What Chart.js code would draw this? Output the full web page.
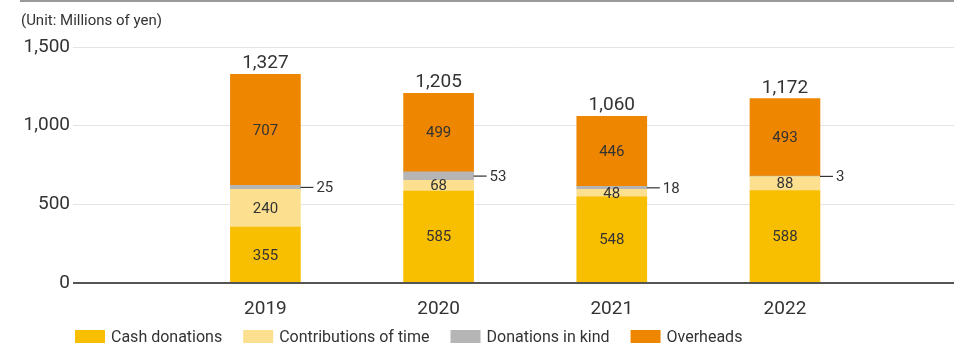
<!DOCTYPE html>
<html><head><meta charset="utf-8">
<script src="https://cdn.jsdelivr.net/npm/chart.js@4.4.0/dist/chart.umd.min.js"></script>
<style>html,body{margin:0;padding:0;background:#fff;} #wrap{position:relative;width:954px;height:345px;}</style>
</head><body><div id="wrap"><canvas id="c" width="954" height="345"></canvas></div>
<script>
const categories = [2019, 2020, 2021, 2022];
const seriesNames = ['Cash donations', 'Contributions of time', 'Donations in kind', 'Overheads'];
const cashDonations = [355, 585, 548, 588];
const contributionsOfTime = [240, 68, 48, 88];
const donationsInKind = [25, 53, 18, 3];
const overheads = [707, 499, 446, 493];
const totals = [1327, 1205, 1060, 1172];
const yTickValues = [0, 500, 1000, 1500];
const unitLabel = '(Unit: Millions of yen)';

const colors = ['#f8be00', '#fce08f', '#b5b5b5', '#ee8600'];
const FONT = 'Roboto, "Noto Sans", sans-serif';
const TEXT = '#333333';
const seriesValues = [cashDonations, contributionsOfTime, donationsInKind, overheads];

const datasets = seriesValues.map((vals, i) => ({
  label: seriesNames[i],
  data: categories.map((c, j) => ({ x: c, y: vals[j] })),
  backgroundColor: colors[i],
  borderWidth: 0,
  barThickness: 70,
  labelMode: i === 2 ? 'side' : 'inside'
}));

const decor = {
  id: 'decor',
  beforeDraw(chart) {
    const ctx = chart.ctx;
    ctx.save();
    ctx.strokeStyle = '#9a9a9a'; ctx.lineWidth = 2;
    ctx.beginPath(); ctx.moveTo(20, 1); ctx.lineTo(chart.width, 1); ctx.stroke();
    ctx.fillStyle = TEXT; ctx.font = '15px ' + FONT;
    ctx.textBaseline = 'alphabetic'; ctx.textAlign = 'left';
    ctx.fillText(unitLabel, 21, 25);
    ctx.restore();
  },
  afterDatasetsDraw(chart) {
    const ctx = chart.ctx, ys = chart.scales.y, a = chart.chartArea;
    ctx.save();
    const y0 = ys.getPixelForValue(0);
    ctx.strokeStyle = '#555'; ctx.lineWidth = 2;
    ctx.beginPath(); ctx.moveTo(a.left, y0); ctx.lineTo(a.right, y0); ctx.stroke();

    chart.data.datasets.forEach((ds, di) => {
      const meta = chart.getDatasetMeta(di);
      meta.data.forEach((bar, j) => {
        const v = seriesValues[di][j];
        const cy = (bar.y + bar.base) / 2;
        ctx.fillStyle = TEXT; ctx.font = '15px ' + FONT; ctx.textBaseline = 'middle';
        if (ds.labelMode === 'side') {
          const right = bar.x + bar.width / 2;
          ctx.strokeStyle = '#333'; ctx.lineWidth = 1.2;
          ctx.beginPath(); ctx.moveTo(right, cy); ctx.lineTo(right + 13, cy); ctx.stroke();
          ctx.textAlign = 'left'; ctx.fillText(String(v), right + 16, cy + 1);
        } else {
          ctx.textAlign = 'center'; ctx.fillText(v.toLocaleString('en-US'), bar.x, cy + 1);
        }
      });
    });

    const topMeta = chart.getDatasetMeta(chart.data.datasets.length - 1);
    topMeta.data.forEach((bar, j) => {
      ctx.fillStyle = TEXT; ctx.font = '19px ' + FONT;
      ctx.textAlign = 'center'; ctx.textBaseline = 'alphabetic';
      ctx.fillText(totals[j].toLocaleString('en-US'), bar.x, bar.y - 6);
    });

    // legend
    let x = 75;
    ctx.font = '16px ' + FONT; ctx.textAlign = 'left'; ctx.textBaseline = 'middle';
    chart.data.datasets.forEach((ds) => {
      ctx.fillStyle = ds.backgroundColor;
      ctx.fillRect(x, 330, 30, 13);
      ctx.fillStyle = TEXT;
      ctx.fillText(ds.label, x + 36, 337.5);
      x += 36 + ctx.measureText(ds.label).width + 21;
    });
    ctx.restore();
  }
};

new Chart(document.getElementById('c'), {
  type: 'bar',
  data: { datasets },
  plugins: [decor],
  options: {
    responsive: false, animation: false, devicePixelRatio: 1,
    layout: { padding: { top: 47, left: 0, right: 0, bottom: 0 } },
    plugins: { legend: { display: false }, tooltip: { enabled: false } },
    scales: {
      x: {
        type: 'linear', stacked: true, offset: false, min: 2017.889, max: 2022.976,
        grid: { display: false }, border: { display: false },
        afterBuildTicks: s => { s.ticks = categories.map(v => ({ value: v })); },
        afterFit: s => { s.height = 62; },
        ticks: { padding: 7, color: TEXT, font: { family: FONT, size: 19 }, callback: v => String(v), maxRotation: 0, autoSkip: false }
      },
      y: {
        stacked: true, min: 0, max: 1500,
        afterBuildTicks: s => { s.ticks = yTickValues.map(v => ({ value: v })); },
        afterFit: s => { s.width = 73; },
        grid: { drawTicks: false, color: c => (c.tick && c.tick.value === 0) ? 'rgba(0,0,0,0)' : '#e4e4e4', lineWidth: 1 },
        border: { display: false },
        ticks: { padding: 3, color: TEXT, font: { family: FONT, size: 19 }, callback: v => v.toLocaleString('en-US') }
      }
    }
  }
});
</script>
</body></html>
